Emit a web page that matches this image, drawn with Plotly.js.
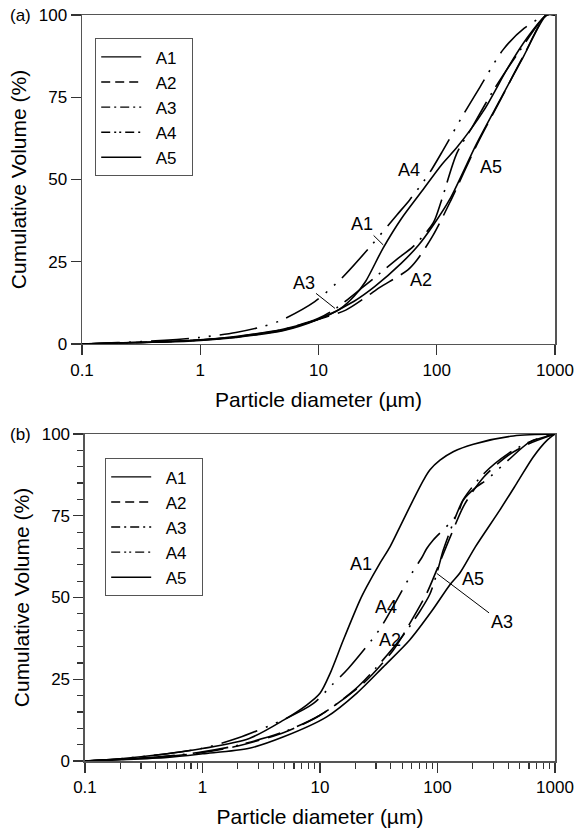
<!DOCTYPE html>
<html>
<head>
<meta charset="utf-8">
<script src="https://cdn.plot.ly/plotly-3.0.1.min.js"></script>
<style>html,body{margin:0;padding:0;background:#fff;}#chart{width:576px;height:833px;}</style>
</head>
<body>
<div id="chart"></div>
<script>
// ---------- Panel (a) data ----------
const aA1x = [0.1,0.2,0.5,1,2,5,10,15,20,25,35,50,75,110,150,250,400,580,850,1000];
const aA1y = [0,0.3,0.7,1.3,2.3,4.5,7.5,10.5,14.5,19,29,38,46.5,54.5,60,71,84,93,100,100];
const aA2x = [0.1,0.2,0.5,1,2,5,10,17,28,33,57,68,93,129,218,343,540,850,1000];
const aA2y = [0,0.3,0.7,1.2,2.1,4.2,7.5,10.3,15.4,17.2,22.5,25.5,33,43,60.5,74,87.5,100,100];
const aA3x = [0.1,0.2,0.5,1,2,5,10,14,24,47,63,93,110,148,200,300,500,850,1000];
const aA3y = [0,0.3,0.7,1.2,2.2,4.4,7.8,10.8,17.4,26,29.6,36.7,43.8,58,66,77,89,100,100];
const aA4x = [0.1,0.2,0.5,1,2,3.3,4.7,9.3,15.7,28,46,59,77,88,111,167,232,363,550,850,1000];
const aA4y = [0,0.4,1.1,2,3.5,5.2,7,12.9,20,30,39.2,43.8,49.3,52.3,58.4,69.6,78.1,89.4,96,100,100];
const aA5x = [0.1,0.2,0.5,1,2,5,10,20,30,50,70,93,129,218,343,540,850,1000];
const aA5y = [0,0.3,0.6,1.1,2,4,7.5,13,17.5,24.5,30,36,44,61,74.2,87.3,100,100];

// ---------- Panel (b) data ----------
const bA1x = [0.1,0.2,0.5,1,2.5,4.9,7.7,10,12.2,15.8,21.9,25,32.4,39.4,48,62,76,86,105,136,202,442,1000];
const bA1y = [0,0.7,2.2,3.8,6.9,12.5,17.1,20.7,26.8,37,49.2,53.3,60.5,65.5,71.7,79.8,85.9,89,92,94.6,96.9,99.4,100];
const bA2x = [0.1,0.2,0.5,1,2,5,10,23.4,42,55,81,100,130,170,250,400,600,1000];
const bA2y = [0,0.5,1.4,2.6,4.6,8.8,14,23.8,33.9,40.6,51.3,59,69,78.5,87,93.5,97,100];
const bA3x = [0.1,0.2,0.5,1,2,5,10,20,30,50,70,86,98,112,124,132,166,250,400,600,1000];
const bA3y = [0,0.5,1.5,2.8,4.8,9,14,22,28.5,38,45.5,51,57,64.5,69,71.6,80,88,94,97.5,100];
const bA4x = [0.1,0.2,0.5,1,2,5.2,8.8,12.6,17.4,30.4,34.6,45,64,73,81,92,146,166,216,262,400,613,1000];
const bA4y = [0,0.7,2.2,3.9,7,13.1,17.6,23.2,28.3,39,42.1,49.2,58.9,62,65,67.6,75.2,79.8,83.9,86,92,97.6,100];
const bA5x = [0.1,0.2,0.5,1,2.5,4.9,11.4,20.5,34.6,58,90,128,155,210,340,472,653,850,1000];
const bA5y = [0,0.4,1.1,2.2,3.9,7.4,13.5,20.7,28.8,37,46,54,57.5,65.5,76.8,84.9,93,98,100];

const seriesNames = ['A1','A2','A3','A4','A5'];
const xTickVals = [0.1,1,10,100,1000];
const xTickText = ['0.1','1','10','100','1000'];
const yTickVals = [0,25,50,75,100];
const yTickText = ['0','25','50','75','100'];

// styles
const plotDash = ['solid','28px,9px','36px,8px,2px,8px','38px,9px,2px,9px,2px,9px','solid'];
const legDash  = ['solid','9px,5px','9px,4px,2px,4px','9px,4px,2px,3px,2px,4px','solid'];
const FONT = 'Liberation Sans, Arial, Helvetica, sans-serif';
const NB = '\u00a0';

const aX=[aA1x,aA2x,aA3x,aA4x,aA5x], aY=[aA1y,aA2y,aA3y,aA4y,aA5y];
const bX=[bA1x,bA2x,bA3x,bA4x,bA5x], bY=[bA1y,bA2y,bA3y,bA4y,bA5y];

const traces=[];
for(let i=0;i<5;i++){
  traces.push({x:aX[i],y:aY[i],xaxis:'x',yaxis:'y',mode:'lines',name:seriesNames[i],showlegend:false,
    line:{color:'#000',width:1.6,dash:plotDash[i],shape:'spline',smoothing:0.8},hoverinfo:'skip'});
}
for(let i=0;i<5;i++){
  traces.push({x:bX[i],y:bY[i],xaxis:'x2',yaxis:'y2',mode:'lines',name:seriesNames[i],showlegend:false,
    line:{color:'#000',width:1.6,dash:plotDash[i],shape:'spline',smoothing:0.8},hoverinfo:'skip'});
}
// legend entries (padded names to reproduce spacing of original legend box)
for(let i=0;i<5;i++){
  traces.push({x:[null],y:[null],xaxis:'x',yaxis:'y',mode:'lines',name:NB+NB+seriesNames[i]+NB+NB,legend:'legend',
    line:{color:'#000',width:1.4,dash:legDash[i]}});
}
for(let i=0;i<5;i++){
  traces.push({x:[null],y:[null],xaxis:'x2',yaxis:'y2',mode:'lines',name:NB+NB+seriesNames[i]+NB+NB,legend:'legend2',
    line:{color:'#000',width:1.4,dash:legDash[i]}});
}

const minorX=[];
for(let e=-1;e<3;e++){for(let d=2;d<=9;d++){minorX.push(d*Math.pow(10,e));}}

function xAx(extra){
  return Object.assign({type:'log',range:[-1,3],tickvals:xTickVals,ticktext:xTickText,ticks:'outside',ticklen:10,tickwidth:1.3,tickcolor:'#333',
    showline:true,linecolor:'#555',linewidth:1.5,mirror:true,showgrid:false,zeroline:false,
    tickfont:{family:FONT,size:17,color:'#000'},
    title:{text:'Particle diameter (µm)',font:{family:FONT,size:21,color:'#000'},standoff:13}},extra);
}
function yAx(extra){
  return Object.assign({range:[0,100],tickvals:yTickVals,ticktext:yTickText,ticks:'outside',ticklen:10,tickwidth:1.3,tickcolor:'#333',
    showline:true,linecolor:'#555',linewidth:1.5,mirror:true,showgrid:false,zeroline:false,
    tickfont:{family:FONT,size:17,color:'#000'},
    title:{text:'Cumulative Volume (%)',font:{family:FONT,size:21,color:'#000'},standoff:6}},extra);
}

const L=Math.log10;
const ann=[];
function lab(xr,yr,x,y,t){ann.push({xref:xr,yref:yr,x:L(x),y:y,text:t,showarrow:false,font:{family:FONT,size:18,color:'#000'}});}
function lead(xr,yr,tx,ty,px,py,t){ann.push({xref:xr,yref:yr,axref:xr,ayref:yr,ax:L(tx),ay:ty,x:L(px),y:py,text:t,showarrow:true,arrowhead:0,arrowwidth:1,arrowcolor:'#000',standoff:0,font:{family:FONT,size:18,color:'#000'}});}
// panel a labels
lab('x','y',58,52.9,'A4');
lab('x','y',288,53.8,'A5');
lab('x','y',73.6,19.5,'A2');
lead('x','y',23.3,36.5,35.3,30.1,'A1');
lead('x','y',7.47,18.4,13.8,10.8,'A3');
// panel b labels
lab('x2','y2',22.3,60.4,'A1');
lab('x2','y2',36.8,47.2,'A4');
lab('x2','y2',39.5,37,'A2');
lab('x2','y2',199,55.8,'A5');
lead('x2','y2',351,42.4,98.4,57.4,'A3');
// panel letters
ann.push({xref:'paper',yref:'paper',x:-0.157,y:1.0,xanchor:'left',yanchor:'middle',text:'(a)',showarrow:false,font:{family:FONT,size:17,color:'#000'}});
ann.push({xref:'paper',yref:'paper',x:-0.157,y:0.438,xanchor:'left',yanchor:'middle',text:'(b)',showarrow:false,font:{family:FONT,size:17,color:'#000'}});

const legStyle = {xanchor:'left',yanchor:'top',bgcolor:'rgba(255,255,255,0)',bordercolor:'#555',borderwidth:1.2,
  font:{family:FONT,size:17,color:'#000'},itemwidth:40,tracegroupgap:0};

const layout={
  width:576,height:833,
  margin:{l:82,r:21,t:15,b:72,pad:0},
  paper_bgcolor:'#fff',plot_bgcolor:'#fff',
  font:{family:FONT,size:17,color:'#000'},
  xaxis:xAx({domain:[0,1],anchor:'y'}),
  yaxis:yAx({domain:[0.559,1],anchor:'x'}),
  xaxis2:xAx({domain:[0.0063,1],anchor:'y2',minor:{tickvals:minorX,ticks:'outside',ticklen:6,tickcolor:'#333',tickwidth:1.2}}),
  yaxis2:yAx({domain:[0,0.4383],anchor:'x2',minor:{dtick:5,ticks:'outside',ticklen:6,tickcolor:'#333',tickwidth:1.2}}),
  legend:Object.assign({x:0.0275,y:0.969},legStyle),
  legend2:Object.assign({x:0.0486,y:0.406},legStyle),
  annotations:ann,
  showlegend:true
};

Plotly.newPlot('chart',traces,layout,{staticPlot:true,displayModeBar:false});
</script>
</body>
</html>
